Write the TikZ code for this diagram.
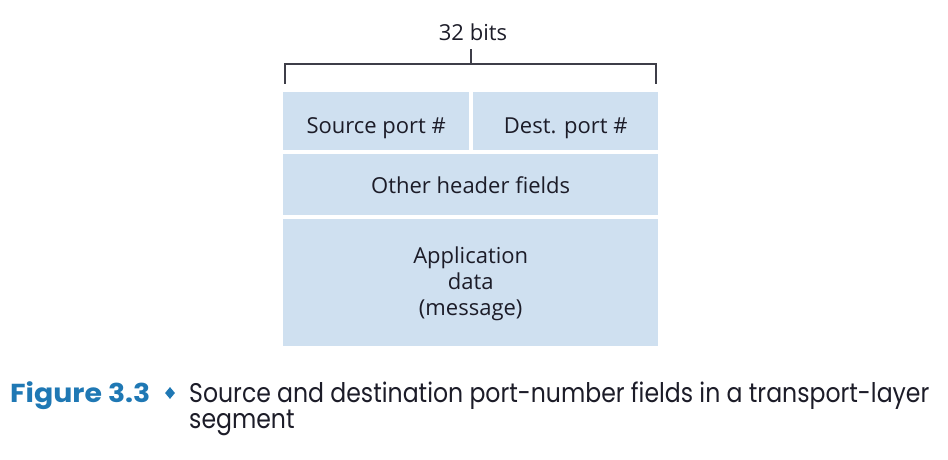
\documentclass[tikz,border=0pt]{standalone}
\usepackage{fontspec}
\setmainfont{Open Sans}
\newfontfamily\capfont[FakeStretch=0.873]{Poppins}
\newfontfamily\figfont[FakeStretch=1.09]{Poppins Bold}
\usetikzlibrary{shapes.geometric}
\definecolor{boxblue}{HTML}{CFE0F0}
\definecolor{figblue}{HTML}{1F78B4}
\definecolor{txt}{HTML}{1C1C28}
\tikzset{
  field/.style={draw=none, fill=boxblue, inner sep=0pt, anchor=north west},
  label/.style={text=txt, inner sep=0pt, anchor=base, align=center,
    font=\fontsize{22}{26}\selectfont},
  brace/.style={draw=txt!85, line width=1.2pt},
}
\begin{document}
\begin{tikzpicture}[x=1pt,y=-1pt]
\useasboundingbox (0,0) rectangle (948,460);
% fields
\node[field, minimum width=186pt, minimum height=58pt] (src) at (283,92) {};
\node[field, minimum width=185pt, minimum height=58pt] (dst) at (473,92) {};
\node[field, minimum width=375pt, minimum height=61pt] (oth) at (283,154) {};
\node[field, minimum width=375pt, minimum height=127pt] (app) at (283,219) {};
\node[label] (srct) at (src.center |- 0,133) {Source port \#};
\node[label] (dstt) at (dst.center |- 0,133) {Dest. port \#};
\node[label] (otht) at (oth.center |- 0,193) {Other header fields};
\node[label] (appt) at (app.center |- 0,315) {Application\\data\\(message)};
% brace
\coordinate (bl) at (285,84);
\coordinate (br) at (656,84);
\coordinate (bm) at (471,64);
\coordinate (bt) at (471,49);
\draw[brace] (bl) |- (br |- bm) -- (br);
\draw[brace] (bm) -- (bt);
\node[label] (bits) at (473,40.5) {32 bits};
% caption
\node[anchor=base west, inner sep=0pt, text=figblue, font=\figfont\fontsize{26}{30}\selectfont] (fig) at (10,402) {Figure 3.3};
\node[diamond, fill=figblue, inner sep=0pt, minimum width=10pt, minimum height=12pt] (dia) at (170,393) {};
\node[anchor=base west, inner sep=0pt, text=txt, font=\capfont\fontsize{27}{26}\selectfont, align=left] (cap) at (189,428) {Source and destination port-number fields in a transport-layer\\segment};
\end{tikzpicture}
\end{document}
